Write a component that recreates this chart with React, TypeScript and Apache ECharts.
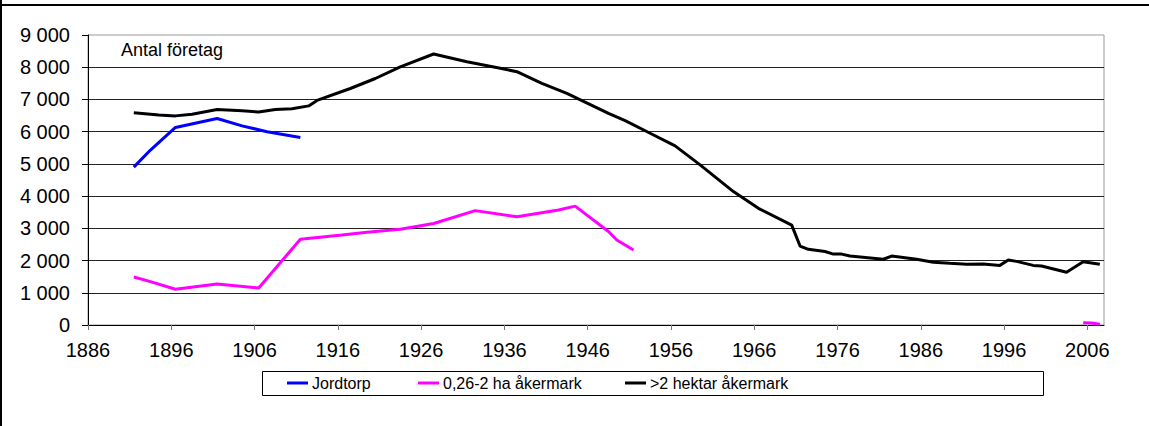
import React, { useEffect, useRef } from "react";
import * as echarts from "echarts";

const YEAR0 = 1886;
const xTickYears = [1886, 1896, 1906, 1916, 1926, 1936, 1946, 1956, 1966, 1976, 1986, 1996, 2006];

const jordtorpYears = [1891, 1893, 1896, 1901, 1904, 1907, 1911];
const jordtorpValues = [4900, 5430, 6130, 6410, 6180, 6000, 5820];

const smallYears = [1891, 1893, 1896, 1901, 1906, 1911, 1916, 1919, 1923, 1927, 1932, 1937, 1942, 1944, 1948, 1949, 1951, 2005, 2006, 2007];
const smallValues = [1490, 1345, 1110, 1270, 1150, 2660, 2790, 2880, 2970, 3150, 3550, 3360, 3570, 3690, 2900, 2640, 2330, 70, 60, 20];

const bigYears = [1891, 1894, 1896, 1898, 1901, 1904, 1906, 1908, 1910, 1912, 1913, 1917, 1920, 1923, 1927, 1931, 1935, 1937, 1940, 1943, 1948, 1950, 1953, 1956, 1959, 1963, 1966, 1970, 1971, 1972, 1974, 1975, 1976, 1977, 1981, 1982, 1985, 1987, 1989, 1991, 1993, 1995, 1996, 1997, 1999, 2000, 2003, 2005, 2007];
const bigValues = [6590, 6520, 6490, 6540, 6690, 6650, 6610, 6690, 6710, 6800, 6970, 7340, 7650, 8010, 8410, 8170, 7970, 7860, 7500, 7190, 6570, 6340, 5950, 5560, 4970, 4140, 3620, 3100, 2450, 2350, 2280, 2200, 2200, 2140, 2040, 2140, 2040, 1950, 1915, 1885, 1890, 1850, 2015, 1975, 1850, 1830, 1635, 1965, 1885];

const seriesNames = ["Jordtorp", "0,26-2 ha åkermark", ">2 hektar åkermark"];
const seriesColors = ["#0000FF", "#FF00FF", "#000000"];

const FONT = "'Liberation Sans', Arial, sans-serif";

const toX = (y: number) => y - YEAR0 + 0.5;

function buildData(years: number[], values: number[]) {
  const out: any[] = [];
  for (let i = 0; i < years.length; i++) {
    if (i > 0 && years[i] - years[i - 1] > 20) {
      out.push([toX((years[i] + years[i - 1]) / 2), "-"]);
    }
    out.push([toX(years[i]), values[i]]);
  }
  return out;
}

const fmtThousands = (v: number) => String(v).replace(/\B(?=(\d{3})+(?!\d))/g, " ");

export default function App() {
  const ref = useRef<HTMLDivElement>(null);
  useEffect(() => {
    if (!ref.current) return;
    const chart = echarts.init(ref.current, undefined, { renderer: "svg" });
    const tickVals = xTickYears.map((y) => y - YEAR0);
    const legendLefts = [287, 418, 625];
    chart.setOption({
      animation: false,
      backgroundColor: "#fff",
      grid: {
        left: 88,
        right: 45,
        top: 35,
        bottom: 101,
        show: true,
        borderColor: "#999",
        borderWidth: 1,
        containLabel: false,
      },
      xAxis: {
        type: "value",
        min: 0,
        max: 122,
        interval: 10,
        axisLine: { show: true, onZero: false, lineStyle: { color: "#000", width: 1 } },
        axisTick: { show: true, inside: false, length: 5, lineStyle: { color: "#777" }, customValues: tickVals },
        axisLabel: {
          customValues: tickVals,
          formatter: (v: number) => String(v + YEAR0),
          color: "#000",
          fontFamily: FONT,
          fontSize: 20,
          margin: 15,
        },
        splitLine: { show: false },
      },
      yAxis: {
        type: "value",
        min: 0,
        max: 9000,
        interval: 1000,
        axisLine: { show: true, lineStyle: { color: "#000", width: 1 } },
        axisTick: { show: true, inside: false, length: 6, lineStyle: { color: "#000" } },
        axisLabel: {
          formatter: (v: number) => fmtThousands(v),
          color: "#000",
          fontFamily: FONT,
          fontSize: 20,
          margin: 18,
        },
        splitLine: { show: true, showMaxLine: false, lineStyle: { color: "#222", width: 1 } },
      },
      legend: seriesNames.map((n, i) => ({
        data: [n],
        left: legendLefts[i],
        top: 375,
        icon: "rect",
        itemWidth: 21,
        itemHeight: 3,
        itemGap: 4,
        padding: 0,
        textStyle: { color: "#000", fontFamily: FONT, fontSize: 16, padding: [0, 0, 0, -1] },
      })),
      graphic: [
        { type: "rect", shape: { x: 262.5, y: 371.5, width: 781, height: 24 }, style: { fill: "none", stroke: "#000", lineWidth: 1 }, silent: true },
        { type: "text", left: 121, top: 41, style: { text: "Antal företag", font: `18px ${FONT}`, fill: "#000" } },
        { type: "rect", shape: { x: 0, y: 0, width: 2, height: 426 }, style: { fill: "#000" } },
        { type: "rect", shape: { x: 0, y: 4, width: 1149, height: 2 }, style: { fill: "#000" } },
      ],
      series: [
        { name: seriesNames[0], type: "line", data: buildData(jordtorpYears, jordtorpValues), showSymbol: false, symbol: "none", lineStyle: { width: 3, color: seriesColors[0] }, itemStyle: { color: seriesColors[0] } },
        { name: seriesNames[1], type: "line", data: buildData(smallYears, smallValues), showSymbol: false, symbol: "none", connectNulls: false, lineStyle: { width: 3, color: seriesColors[1] }, itemStyle: { color: seriesColors[1] } },
        { name: seriesNames[2], type: "line", data: buildData(bigYears, bigValues), showSymbol: false, symbol: "none", lineStyle: { width: 3, color: seriesColors[2] }, itemStyle: { color: seriesColors[2] } },
      ],
    });
    return () => chart.dispose();
  }, []);
  return (
    <div
      ref={ref}
      style={{ position: "fixed", left: 0, top: 0, width: 1149, height: 426, background: "#fff" }}
    />
  );
}
